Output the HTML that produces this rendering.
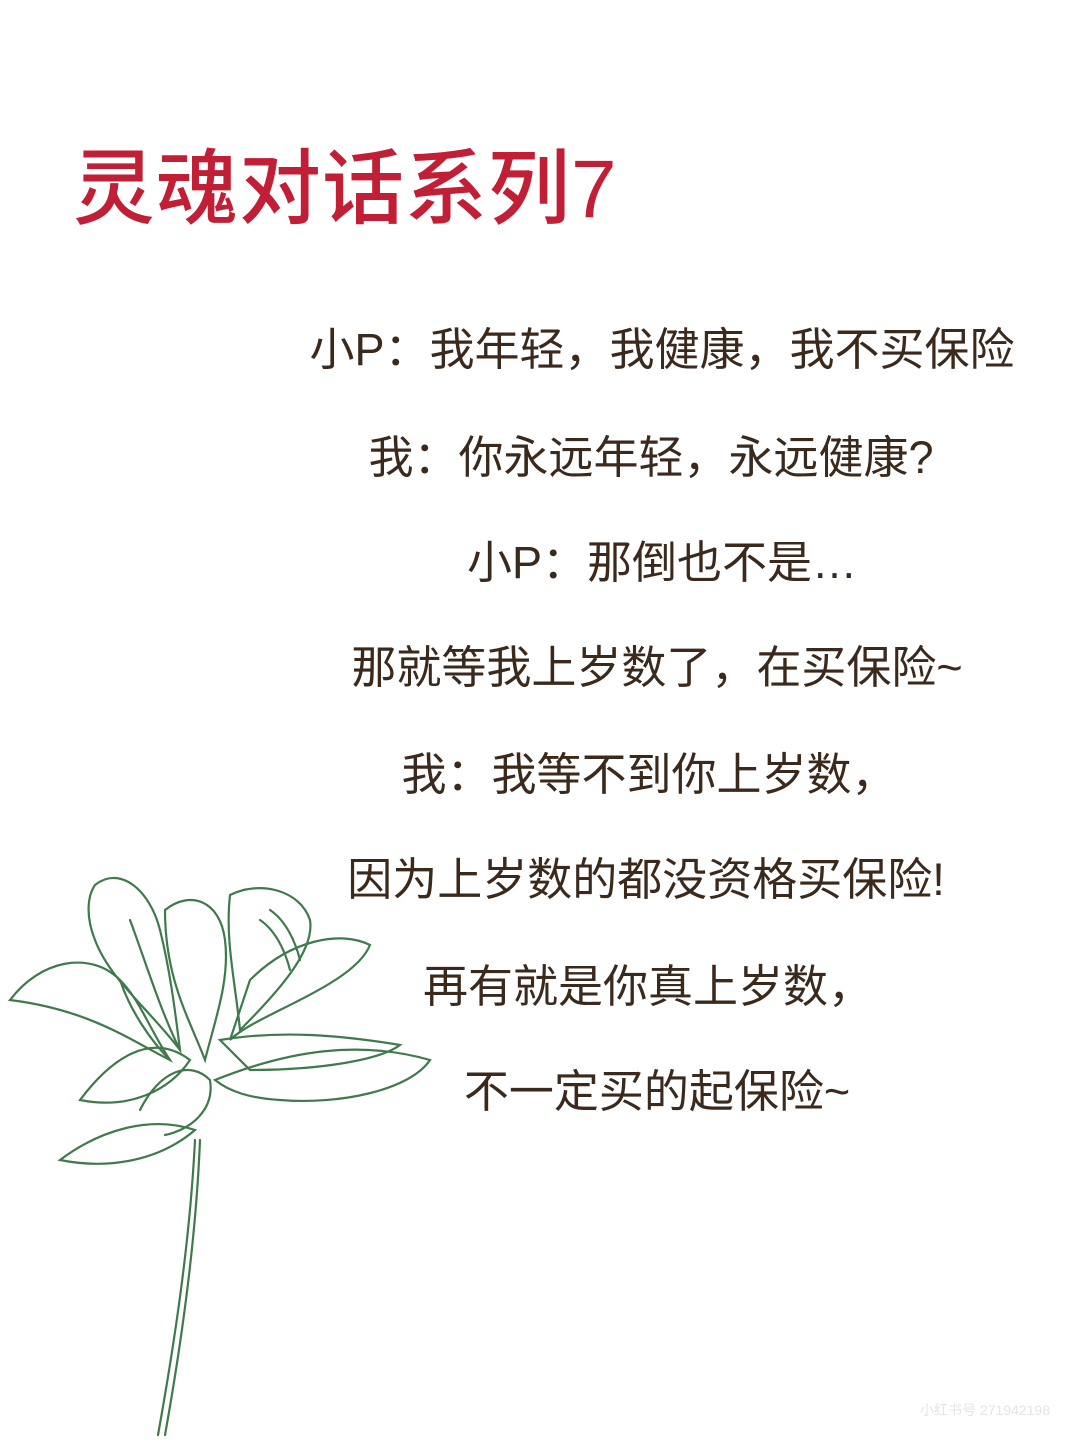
<!DOCTYPE html>
<html><head><meta charset="utf-8">
<style>
html,body{margin:0;padding:0;}
body{width:1080px;height:1440px;background:#fff;position:relative;overflow:hidden;font-family:"Liberation Sans","Noto Sans CJK SC",sans-serif;}
.title{position:absolute;left:73px;top:122px;font-size:82px;color:#c01f35;font-weight:500;letter-spacing:1px;white-space:nowrap;}
.line{position:absolute;width:720px;text-align:center;font-size:45px;color:#3b2a1c;white-space:nowrap;line-height:50px;}
.wm{position:absolute;right:30px;bottom:20px;font-size:14px;color:#e4e4e4;}
</style></head>
<body>
<div class="title">灵魂对话系列7</div>
<div class="line" style="top:325px;left:302px">小P：我年轻，我健康，我不买保险</div>
<div class="line" style="top:433px;left:291px">我：你永远年轻，永远健康?</div>
<div class="line" style="top:538px;left:302px">小P：那倒也不是…</div>
<div class="line" style="top:643px;left:297px">那就等我上岁数了，在买保险~</div>
<div class="line" style="top:750px;left:289px">我：我等不到你上岁数，</div>
<div class="line" style="top:855px;left:286px">因为上岁数的都没资格买保险!</div>
<div class="line" style="top:962px;left:288px">再有就是你真上岁数，</div>
<div class="line" style="top:1067px;left:297px">不一定买的起保险~</div>
<svg style="position:absolute;left:0;top:860px" width="450" height="580" viewBox="0 0 450 580" fill="none" stroke="#3f7a4c" stroke-width="2.2" stroke-linecap="round">
<path d="M195 280 C190 380 175 480 158 575"/>
<path d="M200 280 C196 380 182 480 165 575"/>
<path d="M10 140 C40 100 90 90 120 120 C140 140 150 170 170 200 C130 180 90 150 10 140Z"/>
<path d="M95 25 C120 5 150 30 160 70 C170 110 175 150 180 190 C150 150 110 120 95 80 C85 55 88 35 95 25Z"/>
<path d="M165 50 C190 30 220 40 225 80 C230 120 215 160 205 200 C190 160 165 120 165 50Z"/>
<path d="M230 35 C260 20 300 30 310 60 C315 90 280 130 240 170 C235 120 225 80 230 35Z"/>
<path d="M250 120 C290 80 340 70 370 85 C360 110 320 130 280 150 C260 160 240 170 230 180Z"/>
<path d="M220 180 C280 170 340 175 400 185 C380 200 320 210 250 210Z"/>
<path d="M215 220 C290 190 360 180 430 200 C410 230 340 245 280 240 C250 238 230 232 215 220Z"/>
<path d="M80 240 C110 200 150 170 190 200 C170 230 130 250 80 240Z"/>
<path d="M60 300 C100 270 150 255 195 270 C160 300 110 310 60 300Z"/>
<path d="M140 250 C160 210 190 200 210 220 C215 250 190 270 165 275"/>
<path d="M260 60 C275 70 285 90 290 110 M270 50 C285 60 295 80 300 100"/>
<path d="M120 120 C130 150 150 180 170 200 M130 60 C145 100 160 150 180 190"/>
</svg>
<div class="wm">小红书号 271942198</div>
</body></html>
